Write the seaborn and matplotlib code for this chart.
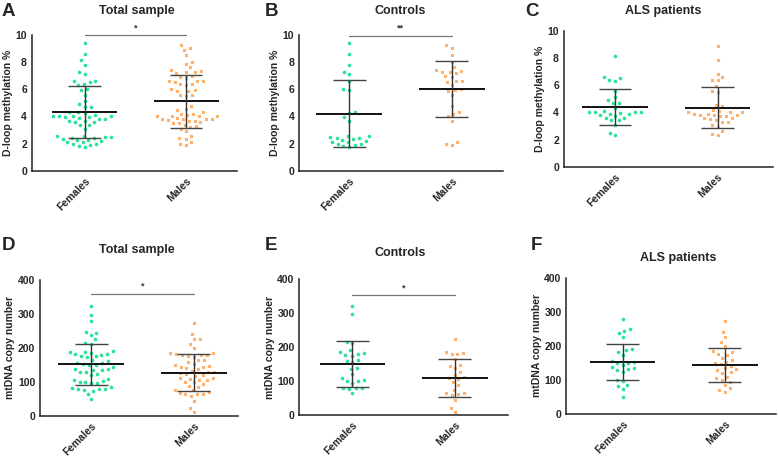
import numpy as np
import pandas as pd
import matplotlib
matplotlib.use("Agg")
import matplotlib.pyplot as plt
import seaborn as sns

# ---------------------------------------------------------------
# values (one point per subject)
# ---------------------------------------------------------------
groups = ["Females", "Males"]

# D-loop methylation %
ctrl_f_dloop = [9.4, 8.6, 7.8, 7.25, 7.1, 6.6, 6.0, 5.95, 4.3, 4.25, 3.95, 3.7,
                2.6, 2.55, 2.5, 2.45, 2.4, 2.35, 2.25, 2.2, 2.15, 2.1, 2.0, 1.95,
                1.9, 1.8, 1.75]
ctrl_m_dloop = [9.25, 9.05, 8.5, 8.0, 7.6, 7.4, 7.35, 7.3, 7.3, 7.2, 6.95, 6.9,
                6.6, 6.6, 6.55, 6.3, 6.0, 5.95, 5.9, 5.6, 4.8, 4.3, 4.2, 4.0,
                3.7, 2.15, 2.0, 1.9]
als_f_dloop = [8.15, 6.6, 6.5, 6.35, 6.3, 5.6, 5.15, 4.9, 4.7, 4.7, 4.3, 4.1,
               4.05, 4.0, 4.0, 4.0, 3.95, 3.9, 3.85, 3.8, 3.7, 3.6, 3.6, 3.4,
               3.4, 3.1, 2.5, 2.3]
als_m_dloop = [8.9, 7.85, 6.85, 6.6, 6.4, 6.35, 5.9, 5.55, 5.5, 4.55, 4.45, 4.2,
               4.1, 4.05, 4.0, 4.0, 3.9, 3.85, 3.8, 3.8, 3.8, 3.75, 3.7, 3.6,
               3.55, 3.5, 3.4, 3.3, 3.25, 3.1, 2.95, 2.6, 2.4, 2.35]

# mtDNA copy number
ctrl_f_mt = [322, 296, 215, 211, 190, 186, 181, 180, 176, 175, 163, 160, 156,
             138, 136, 120, 108, 104, 101, 99, 95, 80, 79, 78, 77, 64]
ctrl_m_mt = [225, 185, 183, 180, 178, 164, 147, 145, 137, 127, 118, 111, 110,
             105, 98, 88, 75, 66, 64, 63, 59, 44, 22, 10]
als_f_mt = [278, 248, 244, 238, 225, 189, 187, 182, 173, 156, 153, 150, 148,
            143, 138, 134, 130, 128, 123, 99, 96, 84, 82, 72, 50]
als_m_mt = [274, 241, 225, 212, 199, 184, 180, 176, 173, 163, 158, 152, 148,
            145, 140, 133, 130, 128, 122, 119, 109, 104, 99, 92, 84, 75, 70, 65]

# mean and SD bars as drawn (Females, Males) for panels A-F
means = [[4.3, 5.1], [4.2, 6.0], [4.4, 4.35], [151, 127], [150, 109], [152, 143]]
sds = [[1.9, 1.95], [2.45, 2.05], [1.3, 1.52], [60, 54], [67, 55], [54, 50]]

letters = ["A", "B", "C", "D", "E", "F"]
titles = ["Total sample", "Controls", "ALS patients"] * 2
sig_marks = ["*", "**", "", "*", "*", ""]
sig_levels = [9.95, 9.93, None, 360, 353, None]

# ---------------------------------------------------------------
# layout (pixel boxes of each axes in the 778x457 figure)
# ---------------------------------------------------------------
W, H = 778, 457
boxes = [(31.7, 237, 34.7, 171), (299, 503, 34.7, 171), (563.7, 773, 30.7, 166.7),
         (40, 238, 280, 415.7), (299.3, 508, 279, 415), (566.3, 776, 277.7, 413.7)]
xlims = [(-0.52, 1.5), (-0.49, 1.5), (-0.5, 1.54),
         (-0.5, 1.43), (-0.52, 1.52), (-0.55, 1.5)]
title_pos = [(137, 11), (400, 11), (663, 11), (137, 250), (400, 253), (678, 258)]
letter_pos = [(2, 12), (265, 12), (525, 11), (2, 245), (265, 245), (531, 245)]

sns.set_theme(style="white")
plt.rcParams["font.family"] = ["Liberation Sans", "DejaVu Sans"]
plt.rcParams["font.weight"] = "bold"

colors = {"Females": "#2fe29a", "Males": "#ffb26e"}
markers = {"Females": "o", "Males": "s"}

sets = [
    (ctrl_f_dloop + als_f_dloop, ctrl_m_dloop + als_m_dloop),
    (ctrl_f_dloop, ctrl_m_dloop),
    (als_f_dloop, als_m_dloop),
    (ctrl_f_mt + als_f_mt, ctrl_m_mt + als_m_mt),
    (ctrl_f_mt, ctrl_m_mt),
    (als_f_mt, als_m_mt),
]

fig = plt.figure(figsize=(W / 100, H / 100), dpi=100)

for i, (fem, mal) in enumerate(sets):
    l, r, t, b = boxes[i]
    ax = fig.add_axes([l / W, 1 - b / H, (r - l) / W, (b - t) / H])
    df = pd.DataFrame({"sex": ["Females"] * len(fem) + ["Males"] * len(mal),
                       "value": fem + mal})
    for g in groups:
        sns.swarmplot(data=df[df["sex"] == g], x="sex", y="value", order=groups,
                      color=colors[g], marker=markers[g], size=3.4,
                      edgecolor="white", linewidth=0.7, ax=ax, zorder=2)

    # mean +- SD
    for j in range(2):
        m, s = means[i][j], sds[i][j]
        ax.hlines(m, j - 0.32, j + 0.32, color="#111111", lw=1.4, zorder=4)
        ax.vlines(j, m - s, m + s, color="#333333", lw=1.0, zorder=4)
        ax.hlines([m - s, m + s], j - 0.16, j + 0.16, color="#444444", lw=1.0, zorder=4)

    if i < 3:
        ax.set_ylim(0, 10)
        ax.set_yticks([0, 2, 4, 6, 8, 10])
        ax.set_ylabel("D-loop methylation %", fontsize=7.5, fontweight="bold", labelpad=2)
    else:
        ax.set_ylim(0, 400)
        ax.set_yticks([0, 100, 200, 300, 400])
        ax.set_ylabel("mtDNA copy number", fontsize=7.5, fontweight="bold", labelpad=2)
    ax.set_xlim(*xlims[i])
    ax.set_xlabel("")
    ax.set_xticks([0, 1])
    ax.set_xticklabels(groups, rotation=45, ha="right", rotation_mode="anchor",
                       fontsize=7.5, fontweight="bold")
    ax.tick_params(axis="both", direction="out", length=2.6, width=1.0,
                   color="#222222", pad=0.8)
    ax.tick_params(axis="y", labelsize=7.5)
    for lab in ax.get_yticklabels():
        lab.set_fontweight("bold")
    sns.despine(ax=ax)
    for sp in ["left", "bottom"]:
        ax.spines[sp].set_color("#222222")
        ax.spines[sp].set_linewidth(1.1)

    if sig_marks[i]:
        y = sig_levels[i]
        ax.plot([0, 1], [y, y], color="#777777", lw=0.9, clip_on=False, zorder=3)
        span = ax.get_ylim()[1]
        ax.text(0.5, y + span * 0.02, sig_marks[i], ha="center", va="bottom",
                fontsize=6.5, fontweight="bold", color="#333333", clip_on=False)

    tx, ty = title_pos[i]
    fig.text(tx / W, 1 - ty / H, titles[i], fontsize=9, fontweight="bold",
             ha="center", va="center")
    lx, ly = letter_pos[i]
    fig.text(lx / W, 1 - ly / H, letters[i], fontsize=13.5, fontweight="bold",
             ha="left", va="center")

fig.savefig("out.png", dpi=100)
